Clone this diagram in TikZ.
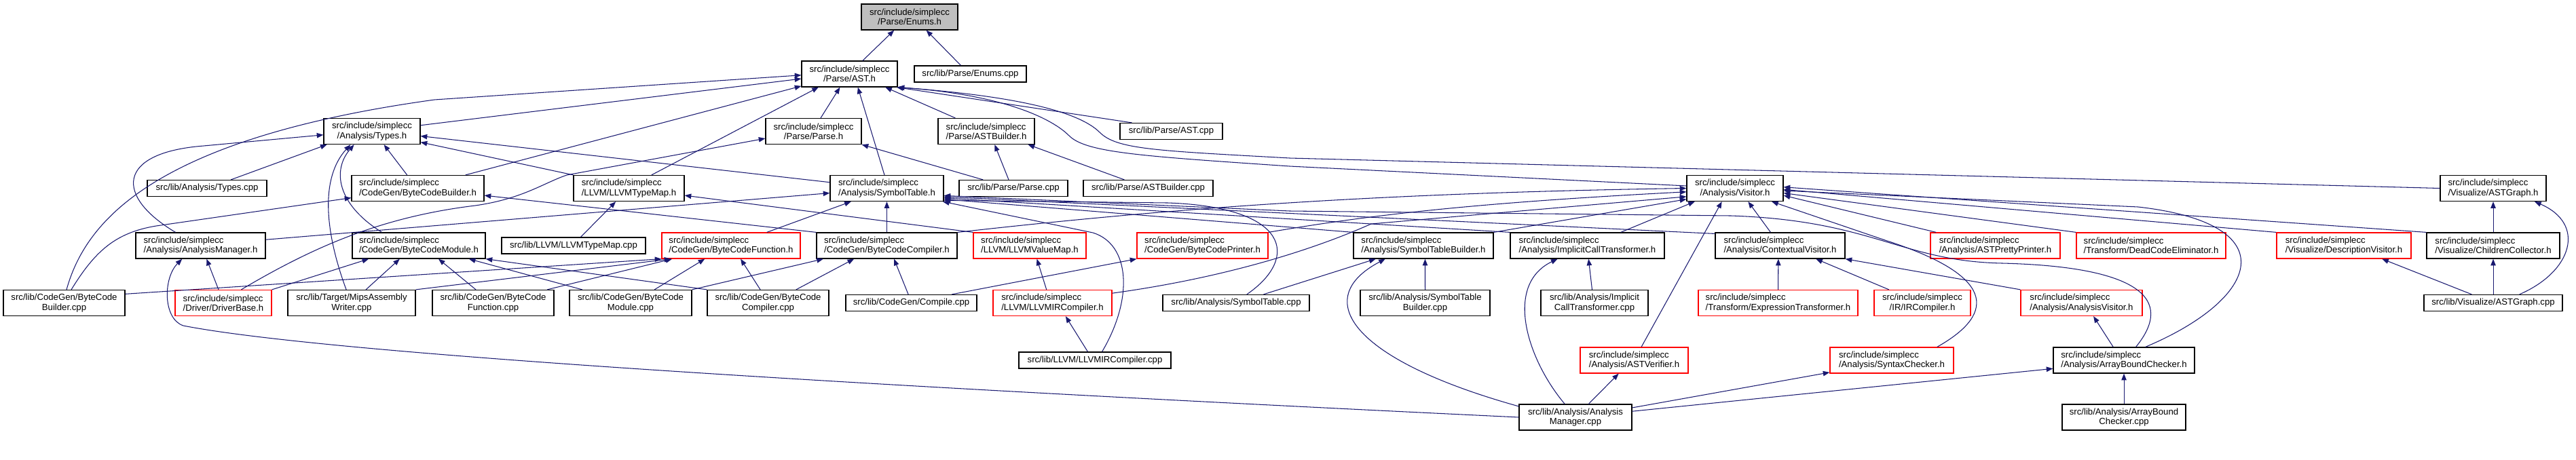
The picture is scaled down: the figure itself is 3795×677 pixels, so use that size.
\documentclass[tikz,border=0pt]{standalone}
\usepackage{fontspec}
\setmainfont{Liberation Sans}
\usetikzlibrary{arrows.meta}
\definecolor{edgeblue}{RGB}{25,25,112}
\definecolor{grey75}{RGB}{191,191,191}

\begin{document}
\begin{tikzpicture}[
    x=0.02cm, y=-0.02cm,
    >={Triangle[length=5.5pt,width=4.2pt]},
    incfile/.style={rectangle, draw=black, fill=white, line width=0.7pt, minimum height=0.76cm, inner xsep=2pt, inner ysep=0pt, align=center, font=\fontsize{7.5}{8.1}\selectfont},
    truncfile/.style={incfile, draw=red},
    rootfile/.style={incfile, fill=grey75},
    oneline/.style={minimum height=0.48cm},
    leftal/.style={align=left},
    dep/.style={->, draw=edgeblue, line width=0.6pt}
]
    \useasboundingbox (0,0) rectangle (3795,677);

    \node[rootfile, minimum width=2.84cm] at (1340,25) (enums_h) {src/include/simplecc\\/Parse/Enums.h};

    \node[incfile, minimum width=2.82cm] at (1251.5,109) (ast_h) {src/include/simplecc\\/Parse/AST.h};
    \node[incfile, oneline, minimum width=3.30cm] at (1429.5,109) (enums_cpp) {src/lib/Parse/Enums.cpp};

    \node[incfile, minimum width=2.84cm] at (548,193.5) (types_h) {src/include/simplecc\\/Analysis/Types.h};
    \node[incfile, minimum width=2.82cm] at (1198.5,193.5) (parse_h) {src/include/simplecc\\/Parse/Parse.h};
    \node[incfile, leftal, minimum width=2.84cm] at (1453,193.5) (astbuilder_h) {src/include/simplecc\\/Parse/ASTBuilder.h};
    \node[incfile, oneline, minimum width=3.02cm] at (1725.5,193.5) (ast_cpp) {src/lib/Parse/AST.cpp};

    \node[incfile, oneline, minimum width=3.52cm] at (305,277.5) (types_cpp) {src/lib/Analysis/Types.cpp};
    \node[incfile, leftal, minimum width=3.90cm] at (615.5,277.5) (bcbuilder_h) {src/include/simplecc\\/CodeGen/ByteCodeBuilder.h};
    \node[incfile, leftal, minimum width=3.26cm] at (926.5,277.5) (llvmtypemap_h) {src/include/simplecc\\/LLVM/LLVMTypeMap.h};
    \node[incfile, leftal, minimum width=3.34cm] at (1306.5,277.5) (symtab_h) {src/include/simplecc\\/Analysis/SymbolTable.h};
    \node[incfile, oneline, minimum width=3.20cm] at (1493,277.5) (parse_cpp) {src/lib/Parse/Parse.cpp};
    \node[incfile, oneline, minimum width=3.82cm] at (1691.5,277.5) (astbuilder_cpp) {src/lib/Parse/ASTBuilder.cpp};
    \node[incfile, minimum width=2.84cm] at (2556,277.5) (visitor_h) {src/include/simplecc\\/Analysis/Visitor.h};
    \node[incfile, leftal, minimum width=3.12cm] at (3673,277.5) (astgraph_h) {src/include/simplecc\\/Visualize/ASTGraph.h};

    \node[incfile, leftal, minimum width=3.82cm] at (295.5,362) (anmanager_h) {src/include/simplecc\\/Analysis/AnalysisManager.h};
    \node[incfile, leftal, minimum width=3.92cm] at (617,362) (bcmodule_h) {src/include/simplecc\\/CodeGen/ByteCodeModule.h};
    \node[incfile, oneline, minimum width=4.24cm] at (845,362) (llvmtypemap_cpp) {src/lib/LLVM/LLVMTypeMap.cpp};
    \node[truncfile, leftal, minimum width=4.08cm] at (1077,362) (bcfunction_h) {src/include/simplecc\\/CodeGen/ByteCodeFunction.h};
    \node[incfile, leftal, minimum width=4.14cm] at (1306.5,362) (bccompiler_h) {src/include/simplecc\\/CodeGen/ByteCodeCompiler.h};
    \node[truncfile, leftal, minimum width=3.32cm] at (1517,362) (llvmvaluemap_h) {src/include/simplecc\\/LLVM/LLVMValueMap.h};
    \node[truncfile, leftal, minimum width=3.86cm] at (1771.5,362) (bcprinter_h) {src/include/simplecc\\/CodeGen/ByteCodePrinter.h};
    \node[incfile, leftal, minimum width=4.12cm] at (2097,362) (symtabbuilder_h) {src/include/simplecc\\/Analysis/SymbolTableBuilder.h};
    \node[incfile, leftal, minimum width=4.54cm] at (2338.5,362) (implicit_h) {src/include/simplecc\\/Analysis/ImplicitCallTransformer.h};
    \node[incfile, leftal, minimum width=3.82cm] at (2622.5,362) (contextual_h) {src/include/simplecc\\/Analysis/ContextualVisitor.h};
    \node[truncfile, leftal, minimum width=3.82cm] at (2939.5,362) (prettyprinter_h) {src/include/simplecc\\/Analysis/ASTPrettyPrinter.h};
    \node[truncfile, leftal, minimum width=4.40cm] at (3169,362) (deadcode_h) {src/include/simplecc\\/Transform/DeadCodeEliminator.h};
    \node[truncfile, leftal, minimum width=3.96cm] at (3453,362) (description_h) {src/include/simplecc\\/Visualize/DescriptionVisitor.h};
    \node[incfile, leftal, minimum width=3.92cm] at (3673,362) (children_h) {src/include/simplecc\\/Visualize/ChildrenCollector.h};

    \node[incfile, minimum width=3.58cm] at (94.5,446.5) (bcbuilder_cpp) {src/lib/CodeGen/ByteCode\\Builder.cpp};
    \node[truncfile, leftal, minimum width=2.84cm] at (329,446.5) (driverbase_h) {src/include/simplecc\\/Driver/DriverBase.h};
    \node[incfile, minimum width=3.76cm] at (518,446.5) (mips_cpp) {src/lib/Target/MipsAssembly\\Writer.cpp};
    \node[incfile, minimum width=3.58cm] at (726.5,446.5) (bcfunction_cpp) {src/lib/CodeGen/ByteCode\\Function.cpp};
    \node[incfile, minimum width=3.60cm] at (929,446.5) (bcmodule_cpp) {src/lib/CodeGen/ByteCode\\Module.cpp};
    \node[incfile, minimum width=3.58cm] at (1131.5,446.5) (bccompiler_cpp) {src/lib/CodeGen/ByteCode\\Compiler.cpp};
    \node[incfile, oneline, minimum width=3.86cm] at (1342.5,446.5) (compile_cpp) {src/lib/CodeGen/Compile.cpp};
    \node[truncfile, leftal, minimum width=3.50cm] at (1550.5,446.5) (llvmircompiler_h) {src/include/simplecc\\/LLVM/LLVMIRCompiler.h};
    \node[incfile, oneline, minimum width=4.32cm] at (1821,446.5) (symtab_cpp) {src/lib/Analysis/SymbolTable.cpp};
    \node[incfile, minimum width=3.82cm] at (2099.5,446.5) (symtabbuilder_cpp) {src/lib/Analysis/SymbolTable\\Builder.cpp};
    \node[incfile, minimum width=3.16cm] at (2349,446.5) (implicit_cpp) {src/lib/Analysis/Implicit\\CallTransformer.cpp};
    \node[truncfile, leftal, minimum width=4.70cm] at (2619.5,446.5) (exprtrans_h) {src/include/simplecc\\/Transform/ExpressionTransformer.h};
    \node[truncfile, minimum width=2.84cm] at (2832,446.5) (ircompiler_h) {src/include/simplecc\\/IR/IRCompiler.h};
    \node[truncfile, leftal, minimum width=3.58cm] at (3066.5,446.5) (anvisitor_h) {src/include/simplecc\\/Analysis/AnalysisVisitor.h};
    \node[incfile, oneline, minimum width=4.08cm] at (3673,446.5) (astgraph_cpp) {src/lib/Visualize/ASTGraph.cpp};

    \node[incfile, oneline, minimum width=4.48cm] at (1613,531) (llvmircompiler_cpp) {src/lib/LLVM/LLVMIRCompiler.cpp};
    \node[truncfile, leftal, minimum width=3.18cm] at (2407.5,531) (astverifier_h) {src/include/simplecc\\/Analysis/ASTVerifier.h};
    \node[truncfile, leftal, minimum width=3.64cm] at (2787,531) (syntaxchecker_h) {src/include/simplecc\\/Analysis/SyntaxChecker.h};
    \node[incfile, leftal, minimum width=4.16cm] at (3129,531) (abchecker_h) {src/include/simplecc\\/Analysis/ArrayBoundChecker.h};

    \node[incfile, minimum width=3.32cm] at (2321,615) (anmanager_cpp) {src/lib/Analysis/Analysis\\Manager.cpp};
    \node[incfile, minimum width=3.64cm] at (3129,615) (abchecker_cpp) {src/lib/Analysis/ArrayBound\\Checker.cpp};

    \draw[dep] ([xshift=11pt]ast_h.north) -- ([xshift=-13pt]enums_h.south);
    \draw[dep] ([xshift=-8pt]enums_cpp.north) -- ([xshift=14pt]enums_h.south);

    \draw[dep] ([xshift=2pt]bcbuilder_cpp.north) .. controls (125,330) and (220,205) .. (640,147) -- ([yshift=-1pt]ast_h.west);
    \draw[dep] ([yshift=5pt]types_h.east) -- ([yshift=-4pt]ast_h.west);
    \draw[dep] ([xshift=40pt]bcbuilder_h.north) -- ([yshift=1pt]ast_h.south west);
    \draw[dep] ([xshift=19pt]llvmtypemap_h.north) -- ([xshift=-26pt]ast_h.south);
    \draw[dep] ([xshift=6pt]parse_h.north) -- ([xshift=-8pt]ast_h.south);
    \draw[dep] ([xshift=-2pt]symtab_h.north) -- ([xshift=7pt]ast_h.south);
    \draw[dep] ([xshift=-26pt]astbuilder_h.north) -- ([xshift=30pt]ast_h.south);
    \draw[dep] ([xshift=-33pt]ast_cpp.north) -- ([xshift=-1pt]ast_h.south east);
    \draw[dep] ([yshift=2pt]visitor_h.west) -- (1900,245) .. controls (1680,230) and (1600,225) .. (1575,200) .. controls (1550,175) and (1480,140) .. (ast_h.south east);
    \draw[dep] (astgraph_h.west) -- (1900,233) .. controls (1700,222) and (1645,220) .. (1620,195) .. controls (1590,165) and (1500,142) .. (ast_h.south east);

    \draw[dep] ([xshift=-21pt]anmanager_h.north) .. controls (170,290) and (170,225) .. (300,215) -- ([yshift=-3pt]types_h.west);
    \draw[dep] ([xshift=20pt]types_cpp.north) -- ([xshift=3pt]types_h.south west);
    \draw[dep] ([xshift=-9pt]bcbuilder_h.north) -- ([xshift=10pt]types_h.south);
    \draw[dep] ([xshift=-31pt]bcmodule_h.north) .. controls (495,300) and (490,250) .. ([xshift=-15pt]types_h.south);
    \draw[dep] ([xshift=-4.5pt]mips_cpp.north) .. controls (478,340) and (472,262) .. ([xshift=-18pt]types_h.south);
    \draw[dep] ([yshift=5pt]symtab_h.west) -- ([yshift=-4pt]types_h.east);
    \draw[dep] (llvmtypemap_h.north west) -- ([yshift=2pt]types_h.south east);

    \draw[dep] ([xshift=15pt]driverbase_h.north) .. controls (460,365) and (560,320) .. (700,303) .. controls (770,293) and (800,270) .. (835,258) -- ([yshift=-6pt]parse_h.west);
    \draw[dep] ([xshift=-25.5pt]parse_cpp.north) -- (parse_h.south east);
    \draw[dep] ([xshift=-4pt]parse_cpp.north) -- ([xshift=7pt]astbuilder_h.south);
    \draw[dep] ([xshift=-20pt]astbuilder_cpp.north) -- ([xshift=35pt]astbuilder_h.south);

    \draw[dep] ([xshift=6pt]bcbuilder_cpp.north) .. controls (140,370) and (170,343) .. (230,333) -- ([yshift=-8pt]bcbuilder_h.west);
    \draw[dep] (bccompiler_h.north west) -- ([yshift=-6pt]bcbuilder_h.east);
    \draw[dep] ([xshift=6pt]llvmtypemap_cpp.north) -- ([xshift=-11pt]llvmtypemap_h.south);
    \draw[dep] (llvmvaluemap_h.north west) -- ([yshift=-6pt]llvmtypemap_h.east);

    \draw[dep] ([yshift=5pt]anmanager_h.east) -- ([yshift=-4pt]symtab_h.west);
    \draw[dep] ([xshift=30pt]bcfunction_h.north) -- ([xshift=-30pt]symtab_h.south);
    \draw[dep] (bccompiler_h.north) -- (symtab_h.south);
    \draw[dep] ([xshift=6pt]llvmircompiler_cpp.north) .. controls (1670,440) and (1665,360) .. (1610,343) -- ([xshift=-1pt]symtab_h.south east);
    \draw[dep] ([xshift=9pt]symtab_cpp.north) .. controls (1915,380) and (1900,305) .. (1720,299) -- ([yshift=1pt]symtab_h.south east);
    \draw[dep] (symtabbuilder_h.north west) -- ([yshift=2pt]symtab_h.south east);
    \draw[dep] (implicit_h.north west) -- ([yshift=3pt]symtab_h.south east);
    \draw[dep] ([yshift=10pt]contextual_h.west) -- ([yshift=4pt]symtab_h.south east);
    \draw[dep] ([xshift=10pt]abchecker_h.north) .. controls (3205,440) and (3150,393) .. (2950,388) .. controls (2800,385) and (2760,325) .. (2550,318) -- (1900,311) -- ([yshift=5pt]symtab_h.south east);

    \draw[dep] ([xshift=18pt]abchecker_h.north) .. controls (3330,440) and (3370,330) .. (3150,305) -- ([yshift=-2pt]visitor_h.east);
    \draw[dep] ([xshift=38pt]syntaxchecker_h.north) .. controls (2945,460) and (2935,405) .. (2780,355) -- ([xshift=-10pt]visitor_h.south east);
    \draw[dep] ([xshift=6pt]astverifier_h.north) -- ([xshift=-11pt]visitor_h.south);
    \draw[dep] ([xshift=28pt]implicit_h.north) -- ([xshift=7pt]visitor_h.south west);
    \draw[dep] ([xshift=-8pt]contextual_h.north) -- ([xshift=11pt]visitor_h.south);
    \draw[dep] (symtabbuilder_h.north east) -- ([yshift=2pt]visitor_h.south west);
    \draw[dep] ([yshift=-3pt]llvmircompiler_h.north east) .. controls (1800,410) and (1930,370) .. (2020,330) -- ([yshift=-7pt]visitor_h.west);
    \draw[dep] (bcprinter_h.north east) .. controls (2000,320) and (2150,300) .. ([yshift=-3pt]visitor_h.west);
    \draw[dep] (bccompiler_h.north east) .. controls (1700,310) and (2000,285) .. (visitor_h.west);
    \draw[dep] ([xshift=5pt]prettyprinter_h.north west) -- ([yshift=-6pt]visitor_h.east);
    \draw[dep] (deadcode_h.north west) -- ([yshift=-4pt]visitor_h.east);
    \draw[dep] (description_h.north west) -- ([yshift=-1pt]visitor_h.east);
    \draw[dep] (children_h.north west) -- ([yshift=1pt]visitor_h.east);

    \draw[dep] (exprtrans_h.north) -- ([xshift=-1.5pt]contextual_h.south);
    \draw[dep] ([xshift=-28pt]ircompiler_h.north) -- ([xshift=30pt]contextual_h.south);
    \draw[dep] (anvisitor_h.north west) -- (contextual_h.south east);
    \draw[dep] ([xshift=-9pt]abchecker_h.north) -- ([xshift=10pt]anvisitor_h.south);
    \draw[dep] (abchecker_cpp.north) -- (abchecker_h.south);

    \draw[dep] ([yshift=5pt]anmanager_cpp.east) -- ([yshift=-7pt]abchecker_h.west);
    \draw[dep] ([yshift=8pt]anmanager_cpp.east) -- ([yshift=1pt]syntaxchecker_h.south west);
    \draw[dep] ([xshift=11pt]anmanager_cpp.north) -- ([xshift=-13pt]astverifier_h.south);
    \draw[dep] ([xshift=-9pt]anmanager_cpp.north) .. controls (2250,530) and (2215,420) .. ([xshift=-25pt]implicit_h.south);
    \draw[dep] ([yshift=-2pt]anmanager_cpp.north west) .. controls (1990,530) and (1930,440) .. ([xshift=-32pt]symtabbuilder_h.south);
    \draw[dep] ([xshift=23pt]symtab_cpp.north) -- ([xshift=-40pt]symtabbuilder_h.south);
    \draw[dep] (symtabbuilder_cpp.north) -- ([xshift=1.4pt]symtabbuilder_h.south);
    \draw[dep] ([xshift=-2pt]implicit_cpp.north) -- ([xshift=1pt]implicit_h.south);
    \draw[dep] (anmanager_cpp.west) .. controls (1400,575) and (500,525) .. (270,480) .. controls (240,470) and (240,410) .. ([xshift=-15.5pt]anmanager_h.south);

    \draw[dep] ([xshift=-4pt]driverbase_h.north) -- ([xshift=5pt]anmanager_h.south);
    \draw[dep] (driverbase_h.north east) -- ([xshift=-42pt]bcmodule_h.south);
    \draw[dep] ([xshift=12pt]mips_cpp.north) -- ([xshift=-16pt]bcmodule_h.south);
    \draw[dep] ([xshift=-14.5pt]bcfunction_cpp.north) -- ([xshift=16.5pt]bcmodule_h.south);
    \draw[dep] ([xshift=11pt]bcmodule_cpp.north west) -- ([xshift=42pt]bcmodule_h.south);
    \draw[dep] (bccompiler_cpp.north west) -- (bcmodule_h.south east);

    \draw[dep] ([yshift=7.5pt]bcbuilder_cpp.east) -- (bcfunction_h.south west);
    \draw[dep] (mips_cpp.north east) -- ([xshift=8pt]bcfunction_h.south west);
    \draw[dep] ([xshift=-6pt]bcfunction_cpp.north east) -- ([xshift=9pt]bcfunction_h.south west);
    \draw[dep] ([xshift=20pt]bcmodule_cpp.north) -- ([xshift=-22pt]bcfunction_h.south);
    \draw[dep] ([xshift=-6.5pt]bccompiler_cpp.north) -- ([xshift=8pt]bcfunction_h.south);

    \draw[dep] (bcmodule_cpp.north east) -- ([xshift=6pt]bccompiler_h.south west);
    \draw[dep] ([xshift=23.5pt]bccompiler_cpp.north) -- ([xshift=-27.5pt]bccompiler_h.south);
    \draw[dep] ([xshift=-2.5pt]compile_cpp.north) -- ([xshift=6pt]bccompiler_h.south);
    \draw[dep] ([xshift=34pt]compile_cpp.north) -- (bcprinter_h.south west);
    \draw[dep] ([xshift=-5pt]llvmircompiler_h.north) -- ([xshift=6pt]llvmvaluemap_h.south);
    \draw[dep] ([xshift=-6pt]llvmircompiler_cpp.north) -- ([xshift=11pt]llvmircompiler_h.south);

    \draw[dep] (children_h.north) -- (astgraph_h.south);
    \draw[dep] (astgraph_cpp.north) -- (children_h.south);
    \draw[dep] ([xshift=-18pt]astgraph_cpp.north) -- ([xshift=32pt]description_h.south);
    \draw[dep] ([xshift=22pt]astgraph_cpp.north) .. controls (3790,400) and (3810,330) .. ([xshift=-10pt]astgraph_h.south east);
\end{tikzpicture}
\end{document}
